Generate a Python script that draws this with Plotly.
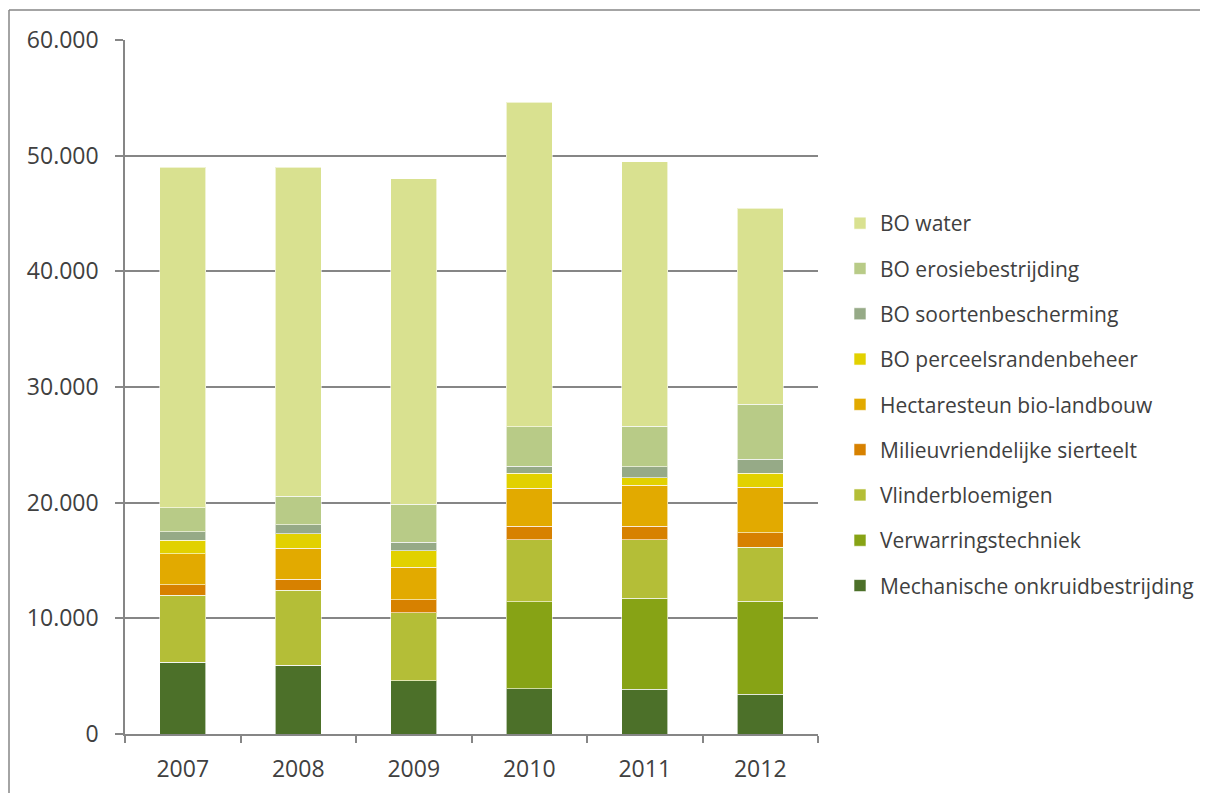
import plotly.graph_objects as go

years = ["2007", "2008", "2009", "2010", "2011", "2012"]

mechanische = [6200, 5950, 4600, 3900, 3850, 3450]
verwarring = [0, 0, 0, 7520, 7880, 8025]
vlinder = [5800, 6500, 5900, 5370, 5050, 4675]
milieu = [900, 920, 1120, 1180, 1180, 1240]
hectare = [2700, 2680, 2800, 3290, 3550, 3950]
perceel = [1150, 1270, 1420, 1275, 665, 1185]
soorten = [750, 750, 745, 600, 950, 1240]
erosie = [2050, 2475, 3290, 3430, 3490, 4755]
water = [29450, 28440, 28130, 28040, 22880, 16930]

series = [
    ("Mechanische onkruidbestrijding", mechanische, "#4C7029"),
    ("Verwarringstechniek", verwarring, "#87A315"),
    ("Vlinderbloemigen", vlinder, "#B4BE37"),
    ("Milieuvriendelijke sierteelt", milieu, "#D78100"),
    ("Hectaresteun bio-landbouw", hectare, "#E2AA00"),
    ("BO perceelsrandenbeheer", perceel, "#E2D100"),
    ("BO soortenbescherming", soorten, "#96AA87"),
    ("BO erosiebestrijding", erosie, "#B8CB87"),
    ("BO water", water, "#D9E190"),
]

fig = go.Figure()
n = len(series)
for i, (name, vals, col) in enumerate(series):
    fig.add_trace(go.Bar(
        x=years, y=vals, name=name, legendgroup=name, legendrank=n - i,
        marker=dict(color=col, line=dict(color="rgba(255,255,255,0.6)", width=1)),
    ))

OFF = 8  # page body margin
W, H = 1208, 793
# target plot-area edges in screen pixels
SL, SR, ST, SB = 125, 818, 40, 734
L = SL - OFF
T = ST - OFF
R = W - (SR - OFF)
B = H - (SB - OFF)
pw, ph = W - L - R, H - T - B

def px_x(p):
    return (p - SL) / pw

def px_y(p):
    return (SB - p) / ph

FONT = "Open Sans, Lato, sans-serif"
BORDER = dict(color="#868686", width=1.5)

fig.update_layout(
    width=W, height=H,
    barmode="stack", bargap=0.6,
    separators=",.",
    plot_bgcolor="white", paper_bgcolor="white",
    margin=dict(l=L, r=R, t=T, b=B, autoexpand=False),
    font=dict(family=FONT, size=23, color="#404040"),
    legend=dict(
        x=px_x(840), y=px_y(203), xanchor="left", yanchor="top",
        traceorder="grouped", tracegroupgap=15,
        font=dict(family=FONT, size=21, color="#404040"),
        itemwidth=30,
    ),
    xaxis=dict(
        showline=True, linecolor="#868686", linewidth=1.5,
        ticks="outside", ticklen=7, tickcolor="#868686", tickwidth=1.5,
        tickson="boundaries", showgrid=False,
        tickfont=dict(family=FONT, size=23, color="#404040"),
        ticklabelstandoff=14,
    ),
    yaxis=dict(
        range=[0, 60000], tickvals=[0, 10000, 20000, 30000, 40000, 50000, 60000],
        tickformat=",d",
        showline=True, linecolor="#868686", linewidth=1.5,
        ticks="outside", ticklen=8, tickcolor="#868686", tickwidth=1.5,
        showgrid=True, gridcolor="#868686", gridwidth=1.5,
        zeroline=False,
        tickfont=dict(family=FONT, size=23, color="#404040"),
        ticklabelstandoff=12,
    ),
    shapes=[
        dict(type="line", xref="paper", yref="paper",
             x0=px_x(9), x1=px_x(1300), y0=px_y(10), y1=px_y(10),
             line=BORDER, layer="below"),
        dict(type="line", xref="paper", yref="paper",
             x0=px_x(9), x1=px_x(9), y0=px_y(10), y1=px_y(900),
             line=BORDER, layer="below"),
    ],
)

fig.write_html("out.html")
